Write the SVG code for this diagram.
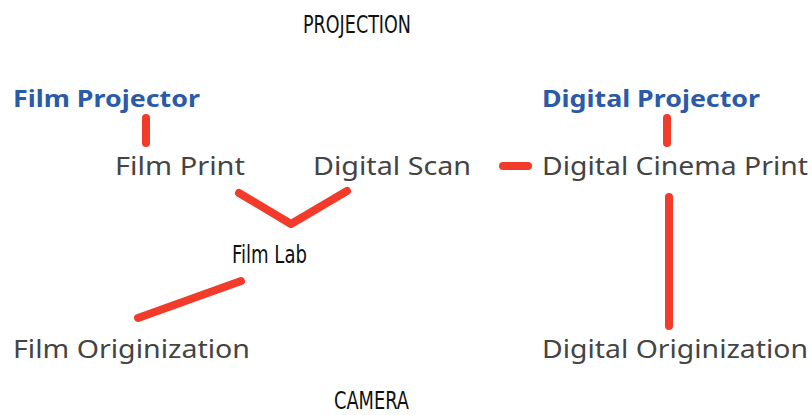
<svg xmlns="http://www.w3.org/2000/svg" width="812" height="415" viewBox="0 0 812 415">
<style>
.t{font-family:"Noto Sans","Open Sans",sans-serif;font-size:26px;fill:#444}
.h{font-family:"Noto Sans","Open Sans",sans-serif;font-size:24px;font-weight:bold;fill:#2b5aa8}
.c{font-family:"DejaVu Sans Condensed","Liberation Sans",sans-serif;font-size:25px;fill:#111}
.l{stroke:#f23b2b;stroke-width:8;stroke-linecap:round;stroke-linejoin:round;fill:none}
</style>
<rect width="812" height="415" fill="#fff"/>
<g id="projection"><text class="c" x="303" y="33" textLength="108" lengthAdjust="spacingAndGlyphs">PROJECTION</text></g>
<g id="camera"><text class="c" x="334" y="409" textLength="75" lengthAdjust="spacingAndGlyphs">CAMERA</text></g>
<g id="film-projector"><text class="h" x="13" y="107" textLength="187" lengthAdjust="spacingAndGlyphs">Film Projector</text></g>
<g id="digital-projector"><text class="h" x="542" y="107" textLength="218" lengthAdjust="spacingAndGlyphs">Digital Projector</text></g>
<g id="film-print"><text class="t" x="115" y="175" textLength="130" lengthAdjust="spacingAndGlyphs">Film Print</text></g>
<g id="digital-scan"><text class="t" x="313" y="175" textLength="158" lengthAdjust="spacingAndGlyphs">Digital Scan</text></g>
<g id="digital-cinema-print"><text class="t" x="542" y="175" textLength="266" lengthAdjust="spacingAndGlyphs">Digital Cinema Print</text></g>
<g id="film-lab"><text class="c" x="232" y="263" textLength="75" lengthAdjust="spacingAndGlyphs">Film Lab</text></g>
<g id="film-originization"><text class="t" x="13" y="358" textLength="237" lengthAdjust="spacingAndGlyphs">Film Originization</text></g>
<g id="digital-originization"><text class="t" x="542" y="358" textLength="266" lengthAdjust="spacingAndGlyphs">Digital Originization</text></g>
<g id="connectors">
<line class="l" x1="146" y1="118" x2="146" y2="143"/>
<line class="l" x1="667" y1="118" x2="667" y2="143"/>
<polyline class="l" points="239,193 291,224 347,191"/>
<line class="l" x1="503" y1="166" x2="528" y2="166"/>
<line class="l" x1="241" y1="281" x2="138" y2="318"/>
<line class="l" x1="669" y1="197" x2="669" y2="326"/>
</g>
</svg>
